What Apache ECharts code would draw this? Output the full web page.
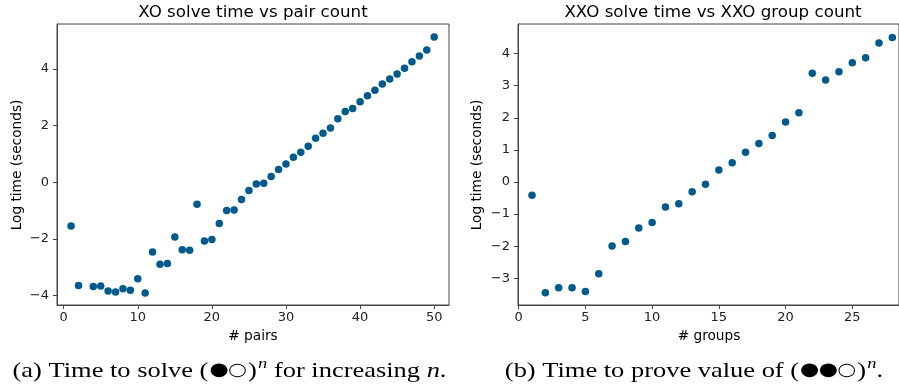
<!DOCTYPE html>
<html>
<head>
<meta charset="utf-8">
<script src="https://cdn.jsdelivr.net/npm/echarts@6/dist/echarts.min.js"></script>
<style>
html,body{margin:0;padding:0;background:#fff;}
#c{width:899px;height:390px;}
</style>
</head>
<body>
<div id="c"></div>
<script>
// Left panel: XO solve time vs pair count
const pairs = [1,2,4,5,6,7,8,9,10,11,12,13,14,15,16,17,18,19,20,21,22,23,24,25,26,27,28,29,30,31,32,33,34,35,36,37,38,39,40,41,42,43,44,45,46,47,48,49,50];
const pairLogTime = [-1.54,-3.64,-3.68,-3.66,-3.84,-3.87,-3.76,-3.81,-3.40,-3.91,-2.46,-2.89,-2.87,-1.93,-2.38,-2.40,-0.78,-2.07,-2.02,-1.46,-1.00,-0.98,-0.61,-0.29,-0.06,-0.04,0.20,0.45,0.64,0.88,1.06,1.27,1.55,1.73,1.91,2.24,2.49,2.60,2.84,3.05,3.24,3.46,3.64,3.82,4.02,4.25,4.45,4.66,5.12];
// Right panel: XXO solve time vs XXO group count
const groups = [1,2,3,4,5,6,7,8,9,10,11,12,13,14,15,16,17,18,19,20,21,22,23,24,25,26,27,28];
const groupLogTime = [-0.41,-3.45,-3.29,-3.29,-3.41,-2.86,-1.99,-1.85,-1.43,-1.26,-0.78,-0.68,-0.30,-0.07,0.37,0.60,0.93,1.20,1.45,1.87,2.16,3.39,3.18,3.43,3.71,3.87,4.33,4.50];
// Tick labels
const leftXTicks = [0,10,20,30,40,50];
const leftYTicks = [-4,-2,0,2,4];
const rightXTicks = [0,5,10,15,20,25];
const rightYTicks = [-3,-2,-1,0,1,2,3,4];
// Texts
const titles = ['XO solve time vs pair count','XXO solve time vs XXO group count'];
const xNames = ['# pairs','# groups'];
const yName = 'Log time (seconds)';

const SANS = 'DejaVu Sans';
const SERIF = 'Liberation Serif';
const axisCol = '#444';
const dotCol = '#005a8c';
const fmt = v => (v < 0 ? '\u2212' + Math.abs(v) : String(v));

function ax(idx, min, max, ticks, margin){
  return {
    type:'value', gridIndex: idx, min, max,
    splitLine:{show:false},
    axisLine:{show:true, onZero:false, lineStyle:{color:axisCol, width:1}},
    axisTick:{show:true, length:4, inside:false, customValues: ticks, lineStyle:{color:axisCol, width:1}},
    axisLabel:{show:true, customValues: ticks, formatter: fmt, color:'#222', fontFamily:SANS, fontSize:13, margin:margin},
  };
}

const chart = echarts.init(document.getElementById('c'), null, {renderer:'canvas'});
const capRich = {
  r:{font:'21.5px "'+SERIF+'"', fill:'#000', lineHeight:28},
  c:{font:'13.5px "DejaVu Sans"', fill:'#000', lineHeight:28, verticalAlign:'middle', padding:[0,1,1,1]},
  s:{font:'italic 15px "'+SERIF+'"', fill:'#000', verticalAlign:'top', padding:[0,0,10,1], lineHeight:28},
  i:{font:'italic 21.5px "'+SERIF+'"', fill:'#000', lineHeight:28}
};
chart.setOption({
  animation:false,
  backgroundColor:'#fff',
  grid:[
    {left:57, top:24, width:392, height:281, show:true, borderColor:axisCol, borderWidth:1, containLabel:false},
    {left:518, top:24, width:385, height:281, show:true, borderColor:axisCol, borderWidth:1, containLabel:false}
  ],
  xAxis:[ ax(0,-0.9,52.0,leftXTicks,6), ax(1,-0.05,28.5,rightXTicks,6) ],
  yAxis:[ ax(0,-4.33,5.58,leftYTicks,8), ax(1,-3.83,4.92,rightYTicks,8) ],
  series:[
    {type:'scatter', xAxisIndex:0, yAxisIndex:0, symbol:'circle', symbolSize:7.5,
     itemStyle:{color:dotCol, opacity:1}, data: pairs.map((x,i)=>[x,pairLogTime[i]])},
    {type:'scatter', xAxisIndex:1, yAxisIndex:1, symbol:'circle', symbolSize:7.5,
     itemStyle:{color:dotCol, opacity:1}, data: groups.map((x,i)=>[x,groupLogTime[i]])}
  ],
  graphic:[
    {type:'text', x:253, y:13, style:{text:titles[0], font:'16.7px "'+SANS+'"', fill:'#000', textAlign:'center', textVerticalAlign:'middle'}},
    {type:'text', x:713, y:13, style:{text:titles[1], font:'16.7px "'+SANS+'"', fill:'#000', textAlign:'center', textVerticalAlign:'middle'}},
    {type:'text', x:253, y:336, style:{text:xNames[0], font:'13.7px "'+SANS+'"', fill:'#000', textAlign:'center', textVerticalAlign:'middle'}},
    {type:'text', x:709, y:336, style:{text:xNames[1], font:'13.7px "'+SANS+'"', fill:'#000', textAlign:'center', textVerticalAlign:'middle'}},
    {type:'text', x:17.5, y:165, rotation:Math.PI/2, style:{text:yName, font:'13.7px "'+SANS+'"', fill:'#000', textAlign:'center', textVerticalAlign:'middle'}},
    {type:'text', x:477.5, y:165, rotation:Math.PI/2, style:{text:yName, font:'13.7px "'+SANS+'"', fill:'#000', textAlign:'center', textVerticalAlign:'middle'}},
    {type:'text', x:229.5, y:371, scaleX:1.23, style:{
      text:'{r|(a) Time to solve (}{c|\u2B24\u25EF}{r|)}{s|n}{r| for increasing }{i|n}{r|.}',
      textAlign:'center', textVerticalAlign:'middle', rich:capRich}},
    {type:'text', x:694, y:371, scaleX:1.23, style:{
      text:'{r|(b) Time to prove value of (}{c|\u2B24\u2B24\u25EF}{r|)}{s|n}{r|.}',
      textAlign:'center', textVerticalAlign:'middle', rich:capRich}}
  ]
});
</script>
</body>
</html>
